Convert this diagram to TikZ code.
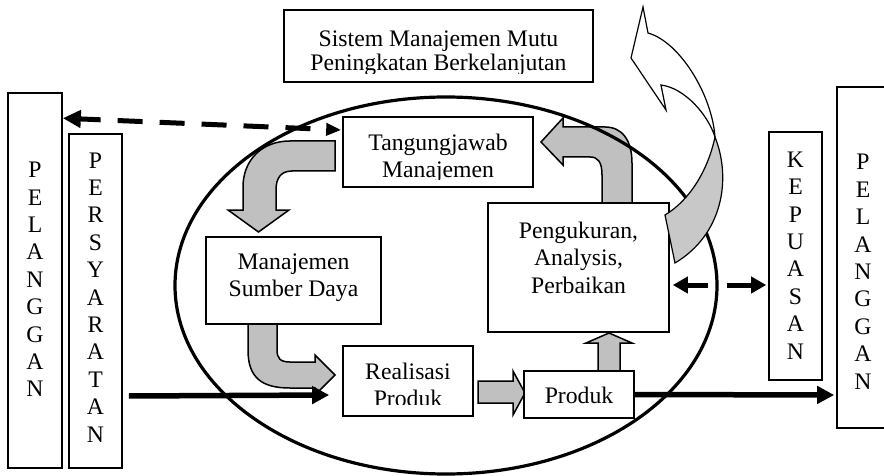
\documentclass[tikz,border=0pt]{standalone}
\usepackage{fontspec}
\setmainfont{Liberation Serif}
\usetikzlibrary{arrows.meta,calc}
\definecolor{blockgray}{RGB}{192,192,192}
\definecolor{ribbongray}{RGB}{200,200,200}
\begin{document}
\begin{tikzpicture}[x=1pt,y=-1pt,
  box/.style={draw,line width=1.6pt,fill=white,inner sep=0pt},
  txt/.style={inner sep=0pt,align=center,font=\fontsize{23.7}{27.4}\selectfont},
  blockarrow/.style={draw,line width=1.5pt,fill=blockgray,line join=miter},
  ribbon/.style={draw,line width=1.2pt,line join=miter},
  thickarrow/.style={line width=5.5pt,-{Triangle[length=17pt,width=17pt]}},
  dashedarrow/.style={line width=5pt},
]
\useasboundingbox (0,0) rectangle (884,476);

% gray block arrows
\draw[blockarrow] (335,141) -- (290,141) .. controls (262,141) and (243,160) .. (243,187) -- (243,210) -- (228,210) -- (258.5,232) -- (289,210) -- (276,210) -- (276,190) .. controls (276,178) and (281,171) .. (292,171) -- (335,171) -- cycle;
\draw[blockarrow] (248,324) -- (248,350) .. controls (248,378) and (262,388) .. (290,388) -- (315,388) -- (315,395) -- (335,375) -- (315,355) -- (315,362) -- (290,362) .. controls (280,362) and (277,358) .. (277,350) -- (277,324) -- cycle;
\draw[blockarrow] (478,381) -- (513,381) -- (513,371) -- (525,393) -- (513,415) -- (513,403) -- (478,403) -- cycle;
\draw[blockarrow] (598,371) -- (598,343) -- (586,343) -- (609,333) -- (632,343) -- (620,343) -- (620,371) -- cycle;
\draw[blockarrow] (602,203) -- (602,175) .. controls (602,162) and (598,157) .. (590,157) -- (563,157) -- (563,165) -- (541,142) -- (563,118) -- (563,127) -- (605,127) .. controls (622,127) and (632,140) .. (632,163) -- (632,203) -- cycle;

% ellipse
\draw[line width=3.2pt] (446,285.5) ellipse [x radius=271pt, y radius=188.5pt];

% boxes
\node[box,minimum width=309pt,minimum height=72pt] (sis) at (438.5,46) {};
\node[box,minimum width=190pt,minimum height=70pt] (tj) at (438,152) {};
\node[box,minimum width=175pt,minimum height=87pt] (msd) at (293.5,280.5) {};
\node[box,minimum width=130pt,minimum height=70pt] (rp) at (408,381) {};
\node[box,minimum width=110pt,minimum height=47pt] (pr) at (579,394.5) {};
\node[box,minimum width=181pt,minimum height=129pt] (pa) at (578.5,267.5) {};
\node[box,minimum width=54pt,minimum height=375pt] (pl1) at (35,280.5) {};
\node[box,minimum width=53pt,minimum height=334pt] (ps) at (95.5,301) {};
\node[box,minimum width=53pt,minimum height=248pt] (kp) at (795.5,256) {};
\node[box,minimum width=52pt,minimum height=341pt] (pl2) at (863,257.5) {};

% texts
\begin{scope}
  \clip (sis.north west) rectangle ($(sis.south east)+(0,-9)$);
  \node[txt,font=\fontsize{23.7}{24}\selectfont] (sist) at (438.5,53.5) {Sistem Manajemen Mutu\\Peningkatan Berkelanjutan};
\end{scope}
\begin{scope}
  \clip (tj.north west) rectangle ($(tj.south east)+(0,-8)$);
  \node[txt] (tjt) at (438,158.5) {Tangungjawab\\Manajemen};
\end{scope}
\begin{scope}
  \clip (rp.north west) rectangle ($(rp.south east)+(0,-12)$);
  \node[txt] (rpt) at (408,385.1) {Realisasi\\Produk};
\end{scope}
\node[txt] (msdt) at (293.5,278) {Manajemen\\Sumber Daya};
\node[txt] (prt) at (579,395) {Produk};
\node[txt] (pat) at (578.5,257.5) {Pengukuran,\\Analysis,\\Perbaikan};
\node[txt] (pl1t) at (35,279.5) {P\\E\\L\\A\\N\\G\\G\\A\\N};
\node[txt] (pst) at (95.5,297.4) {P\\E\\R\\S\\Y\\A\\R\\A\\T\\A\\N};
\node[txt] (kpt) at (795.5,255.4) {K\\E\\P\\U\\A\\S\\A\\N};
\node[txt] (pl2t) at (863,271.7) {P\\E\\L\\A\\N\\G\\G\\A\\N};

% big curved arrow
\draw[ribbon,fill=white] (643,7) -- (648,33) .. controls (680,42) and (712,95) .. (715,137) .. controls (708,115) and (685,88) .. (661,85) -- (666,110) -- (631,58) -- cycle;
\draw[ribbon,fill=ribbongray] (715,137) .. controls (732,180) and (722,235) .. (675,263) -- (665,215) .. controls (690,200) and (708,170) .. (715,137) -- cycle;

% connectors
\draw[dashedarrow,dash pattern=on 25pt off 17pt,dash phase=4pt,{Triangle[length=18pt,width=17pt]}-{Triangle[length=15pt,width=12pt]}] ($(pl1.north east)+(0,26)$) -- ($(tj.west)+(-1,-22)$);
\draw[dashedarrow,dash pattern=on 21pt off 19pt on 60pt off 1pt,{Triangle[length=15pt,width=16pt]}-{Triangle[length=15pt,width=16pt]}] ($(pa.east)+(3,17.5)$) -- ($(kp.west)+(-2,29)$);
\draw[thickarrow] ($(ps.east)+(6,95)$) -- ($(rp.west)+(-13,14)$);
\draw[thickarrow] (pr.east) -- ($(pl2.west)+(-2,137.5)$);
\end{tikzpicture}
\end{document}
